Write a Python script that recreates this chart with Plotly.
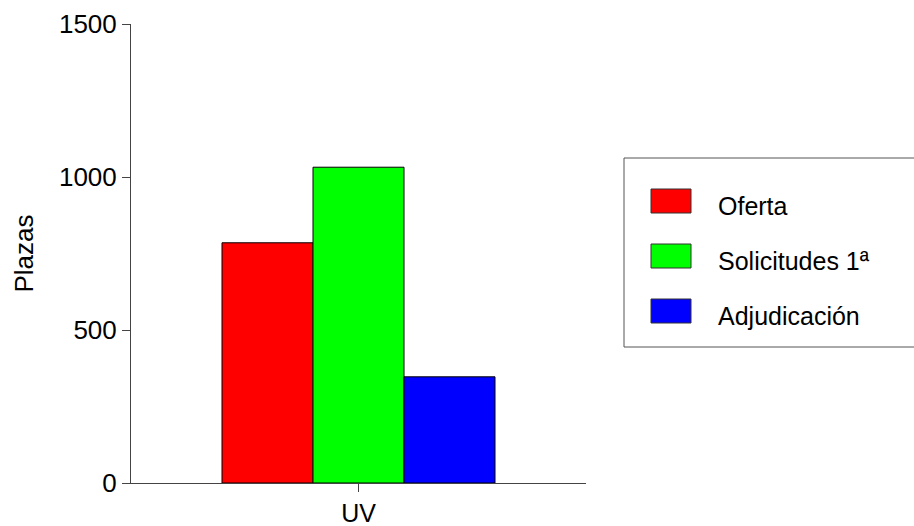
import plotly.graph_objects as go

# Data
categories = ["UV"]
series_names = ["Oferta", "Solicitudes 1ª", "Adjudicación"]
series_values = [[785], [1032], [347]]
series_colors = ["#FF0000", "#00FF00", "#0000FF"]
y_ticks = [0, 500, 1000, 1500]

W, H = 914, 526
M_L, M_R, M_T, M_B = 131, 328, 24, 43
PW = W - M_L - M_R
PH = H - M_T - M_B


def px_x(px):
    return (px - M_L) / PW


def px_y(py):
    return (H - M_B - py) / PH


fig = go.Figure()

for name, vals, color in zip(series_names, series_values, series_colors):
    fig.add_trace(go.Bar(
        x=categories,
        y=vals,
        name=name,
        marker=dict(color=color, line=dict(color="black", width=1)),
        showlegend=False,
    ))

# Hand-drawn legend box to get the wide swatches of the original
shapes = [dict(
    type="rect", xref="paper", yref="paper",
    x0=px_x(624), x1=px_x(940), y0=px_y(158), y1=px_y(347),
    line=dict(color="#555555", width=1), fillcolor="white", layer="above",
)]
annotations = []
for i, (name, color) in enumerate(zip(series_names, series_colors)):
    cy = 201 + 55 * i
    shapes.append(dict(
        type="rect", xref="paper", yref="paper",
        x0=px_x(651), x1=px_x(691), y0=px_y(cy + 12), y1=px_y(cy - 12),
        line=dict(color="#333333", width=1), fillcolor=color, layer="above",
    ))
    annotations.append(dict(
        text=name, xref="paper", yref="paper",
        x=px_x(716), y=px_y(cy + 5), xanchor="left", yanchor="middle",
        showarrow=False, font=dict(size=25, color="black"),
    ))

fig.update_layout(
    width=W, height=H,
    margin=dict(l=M_L, r=M_R, t=M_T, b=M_B, autoexpand=False),
    paper_bgcolor="white", plot_bgcolor="white",
    font=dict(family="Liberation Sans, Arial, sans-serif", size=26, color="black"),
    barmode="group", bargap=0.4, bargroupgap=0,
    shapes=shapes, annotations=annotations,
    showlegend=False,
)
fig.update_xaxes(
    type="category", range=[-0.5, 0.5],
    showline=True, linecolor="#444444", linewidth=1,
    ticks="outside", ticklen=8, tickcolor="#444444",
    showgrid=False, zeroline=False,
    tickfont=dict(size=25),
)
fig.update_yaxes(
    range=[0, 1500], tickvals=y_ticks,
    showline=True, linecolor="#444444", linewidth=1,
    ticks="outside", ticklen=8, tickcolor="#444444",
    showgrid=False, zeroline=False,
    title=dict(text="Plazas", standoff=17, font=dict(size=26)),
    tickfont=dict(size=26),
)

fig.write_html("out.html", config={"displayModeBar": False},
               post_script="document.body.style.margin='0';")
